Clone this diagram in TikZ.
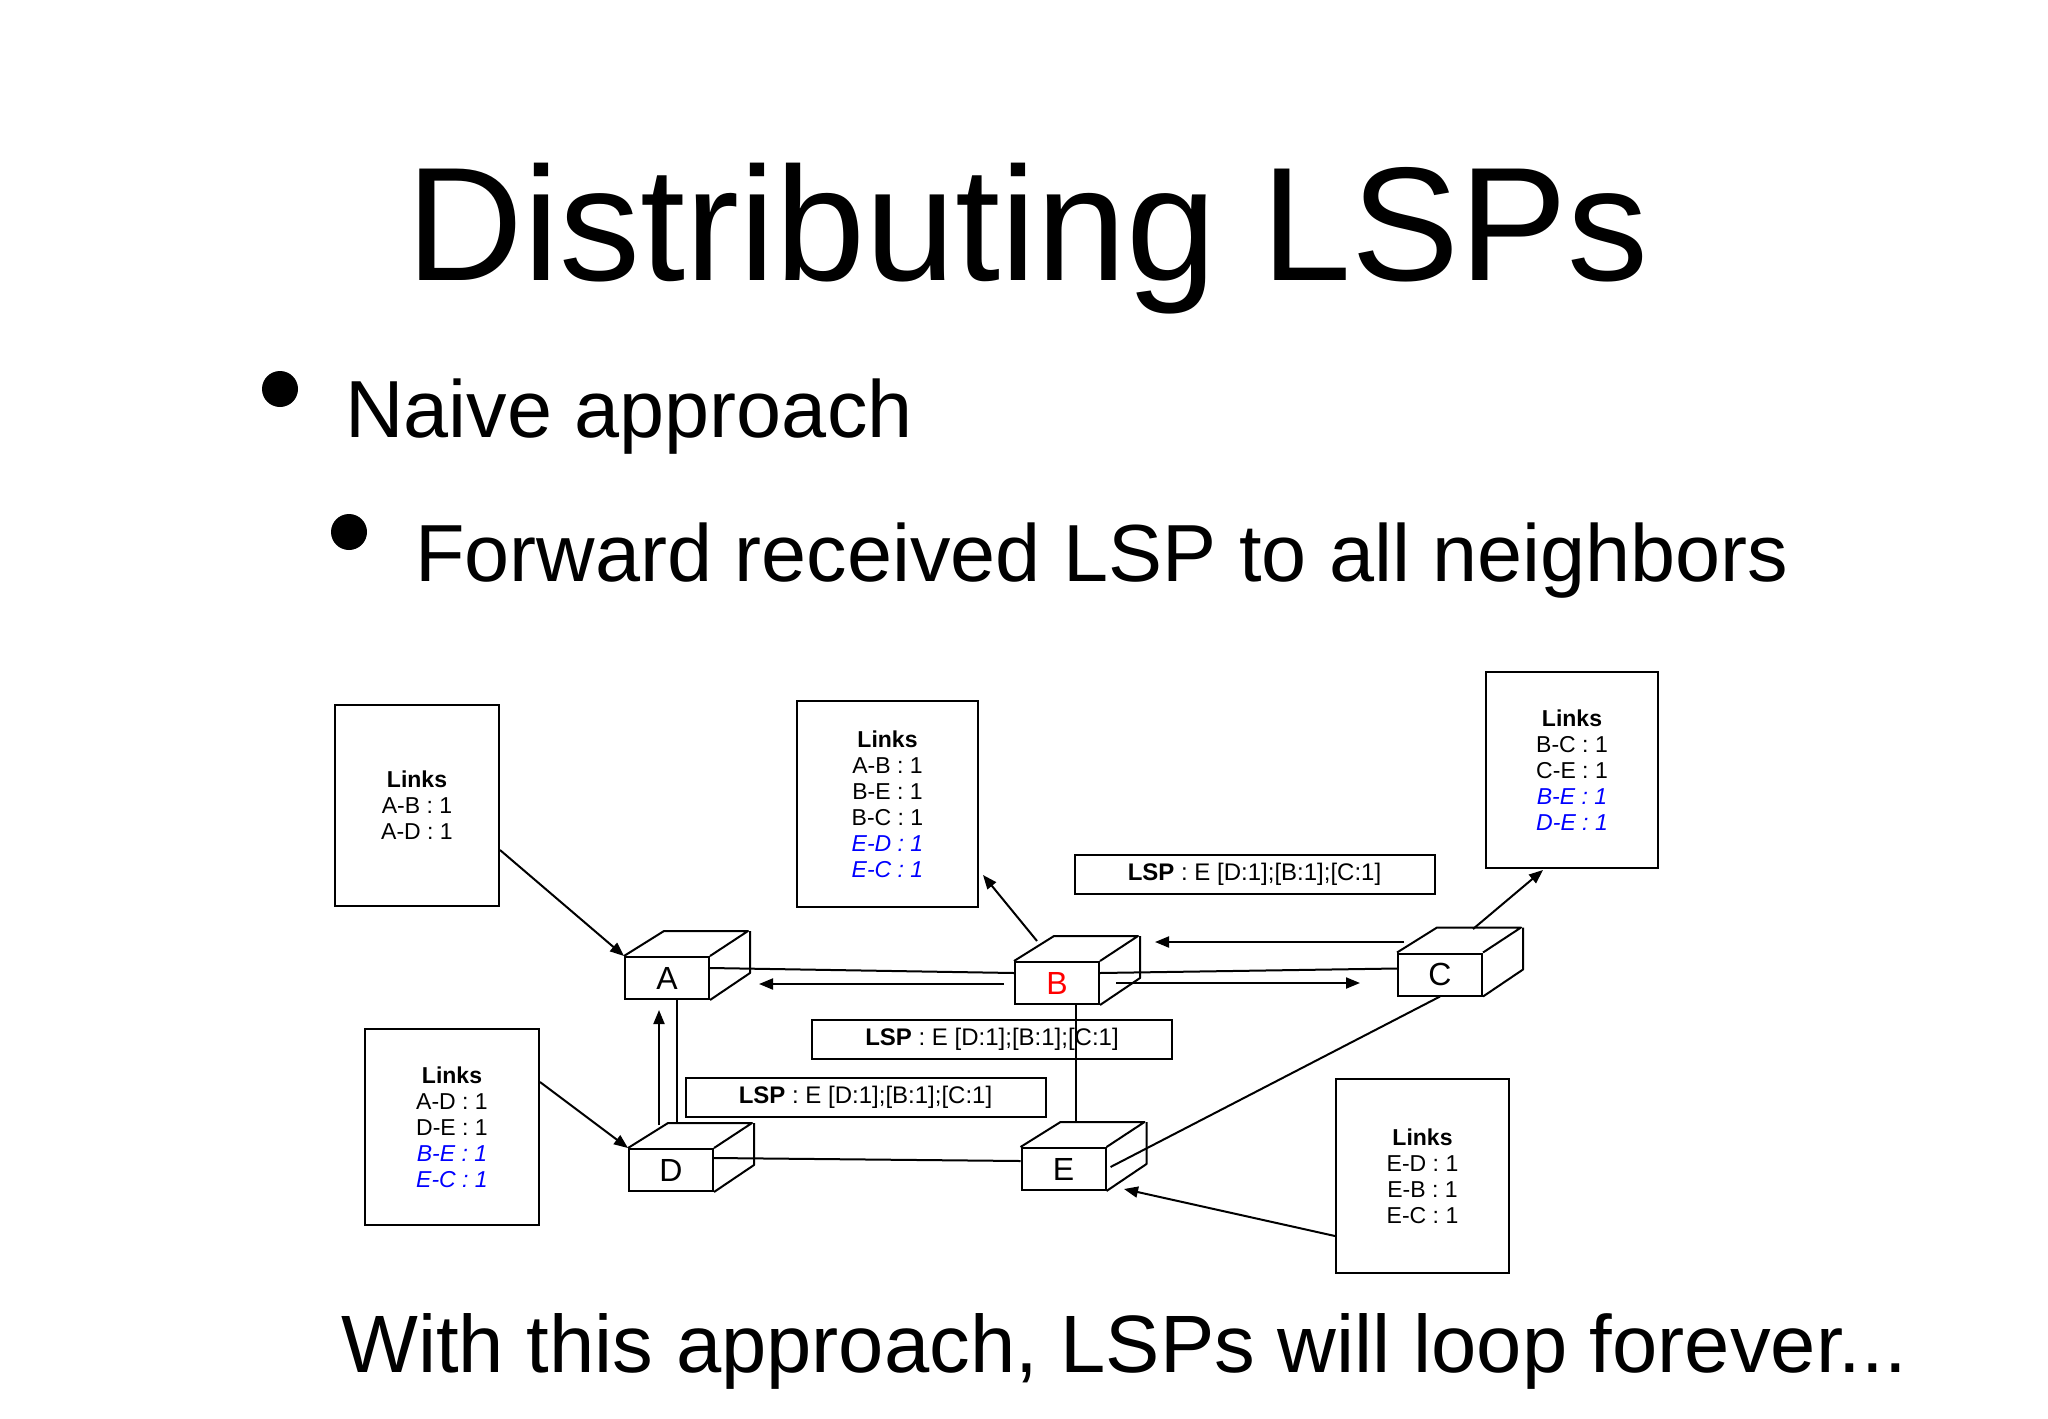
\documentclass[tikz,border=0pt]{standalone}
\usepackage{fontspec}
\setmainfont{Liberation Sans}
\usetikzlibrary{arrows.meta,calc}
\tikzset{
  lbox/.style={draw, line width=1pt, align=center, inner sep=0pt, font=\fontsize{11.5}{13}\selectfont},
  lspbox/.style={draw, line width=1pt, inner sep=0pt, minimum width=180pt, minimum height=19.5pt, font=\fontsize{12}{14}\selectfont},
  front/.style={draw, line width=1pt, inner sep=0pt, minimum width=42pt, minimum height=21pt, font=\fontsize{16}{16}\selectfont},
  edge/.style={line width=1pt},
  arr/.style={line width=1pt, -{Triangle[length=7pt,width=5.5pt]}}
}
\newcommand{\mycube}[5]{%
  \node[front, text=#5] (#1) at (#2,#3) {#4};
  \draw[line width=1pt, line join=round] (#1.north west) -- ++(40,-25) -- ++(84,0) -- (#1.north east);
  \draw[line width=1pt, line join=round] (#1.north east) ++(40,-25) -- ++(0,42) -- (#1.south east);
}
\begin{document}
\begin{tikzpicture}[x=0.5pt,y=-0.5pt]
\useasboundingbox[fill=white] (0,0) rectangle (2048,1418);
% texts
\node[anchor=base, font=\fontsize{81}{84}\selectfont] (title) at (1028,280) {Distributing LSPs};
\fill (280,389) circle (18);
\node[anchor=base west, font=\fontsize{40.5}{44}\selectfont, inner sep=0pt] (b1) at (345,437) {Naive approach};
\fill (349,532) circle (18);
\node[anchor=base west, font=\fontsize{40.5}{44}\selectfont, inner sep=0pt] (b2) at (415,581) {Forward received LSP to all neighbors};
\node[anchor=base west, font=\fontsize{40.7}{46}\selectfont, inner sep=0pt] (bot) at (341,1372) {With this approach, LSPs will loop forever...};
% link boxes
\node[lbox, minimum width=82pt, minimum height=100.5pt] (la) at (417,805.5) {\textbf{Links}\\A-B : 1\\A-D : 1};
\node[lbox, minimum width=90.5pt, minimum height=103pt] (lb) at (887.5,804) {\textbf{Links}\\A-B : 1\\B-E : 1\\B-C : 1\\\textcolor{blue}{\itshape E-D : 1}\\\textcolor{blue}{\itshape E-C : 1}};
\node[lbox, minimum width=86pt, minimum height=98pt] (lc) at (1572,770) {\textbf{Links}\\B-C : 1\\C-E : 1\\\textcolor{blue}{\itshape B-E : 1}\\\textcolor{blue}{\itshape D-E : 1}};
\node[lbox, minimum width=87pt, minimum height=98pt] (ld) at (452,1127) {\textbf{Links}\\A-D : 1\\D-E : 1\\\textcolor{blue}{\itshape B-E : 1}\\\textcolor{blue}{\itshape E-C : 1}};
\node[lbox, minimum width=86.5pt, minimum height=97pt] (le) at (1422.5,1176) {\textbf{Links}\\E-D : 1\\E-B : 1\\E-C : 1};
% LSP boxes
\node[lspbox] (lsp1) at (1254.5,874) {\textbf{LSP} : E [D:1];[B:1];[C:1]};
\node[lspbox] (lsp2) at (992,1039.5) {\textbf{LSP} : E [D:1];[B:1];[C:1]};
\node[lspbox] (lsp3) at (865.5,1097.5) {\textbf{LSP} : E [D:1];[B:1];[C:1]};
% cubes
\mycube{A}{667}{978}{A}{black}
\mycube{B}{1057}{983}{B}{red}
\mycube{C}{1440}{974.5}{C}{black}
\mycube{D}{671}{1170}{D}{black}
\mycube{E}{1063.5}{1169}{E}{black}
% links
\draw[edge] ([yshift=5pt]A.east) -- ([yshift=5pt]B.west);
\draw[edge] ([yshift=5pt]B.east) -- ([yshift=3pt]C.west);
\draw[edge] ([xshift=5pt]A.south) -- ([xshift=3pt,yshift=12.5pt]D.north);
\draw[edge] ([xshift=9.5pt]B.south) -- ([xshift=6.25pt,yshift=12.5pt]E.north);
\draw[edge] ([yshift=6pt]D.east) -- ([yshift=4pt]E.west);
\draw[edge] (C.south) -- ([xshift=2pt,yshift=1pt]E.east);
% message arrows
\coordinate (bas) at (1004,984); \coordinate (bae) at (759,984);
\draw[arr] (bas) -- (bae);
\coordinate (cbs) at (1404,942); \coordinate (cbe) at (1155,942);
\draw[arr] (cbs) -- (cbe);
\coordinate (bcs) at (1116,983); \coordinate (bce) at (1360,983);
\draw[arr] (bcs) -- (bce);
\coordinate (das) at (659,1125); \coordinate (dae) at (659,1010);
\draw[arr] (das) -- (dae);
% table arrows
\draw[arr] (la.east |- 0,850) -- (A.north west);
\draw[arr] (ld.east |- 0,1082) -- (D.north west);
\coordinate (ee) at (1124,1189);
\draw[arr] (le.west |- 0,1236) -- (ee);
\coordinate (bt) at (1037,941);
\draw[arr] (bt) -- (983,875);
\coordinate (ct) at (1473,929);
\draw[arr] (ct) -- (1543,870);
\end{tikzpicture}
\end{document}
